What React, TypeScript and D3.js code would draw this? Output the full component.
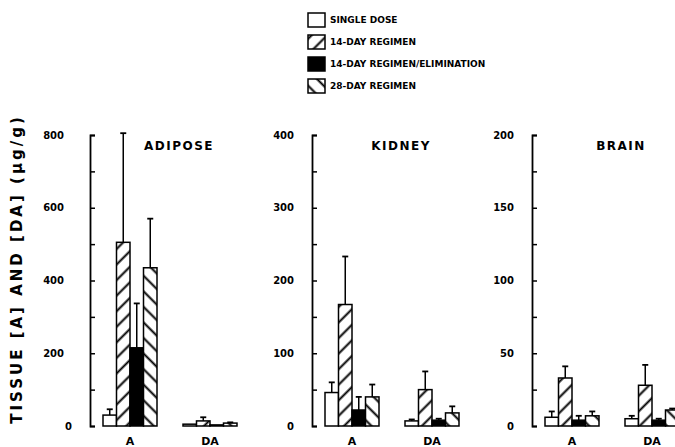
import React, { useEffect, useRef } from 'react';
import * as d3 from 'd3';

// panels
const organs = ['ADIPOSE', 'KIDNEY', 'BRAIN'];
const organMax = [800, 400, 200];
const organStep = [200, 100, 50];
const groups = ['A', 'DA'];
const regimens = ['SINGLE DOSE', '14-DAY REGIMEN', '14-DAY REGIMEN/ELIMINATION', '28-DAY REGIMEN'];

// means (ug/g), one value per regimen
const adiposeA = [30, 505, 215, 435];
const adiposeDA = [5, 14, 3, 8];
const kidneyA = [46, 167, 22, 40];
const kidneyDA = [7, 50, 8, 18];
const brainA = [6, 33, 4, 7];
const brainDA = [5, 28, 4, 11];

// upper error bars
const adiposeAErr = [16, 300, 122, 135];
const adiposeDAErr = [0, 10, 0, 2];
const kidneyAErr = [14, 66, 18, 17];
const kidneyDAErr = [2, 25, 2, 9];
const brainAErr = [4, 8, 3, 3];
const brainDAErr = [2, 14, 1, 1];

const values = [[adiposeA, adiposeDA], [kidneyA, kidneyDA], [brainA, brainDA]];
const errors = [[adiposeAErr, adiposeDAErr], [kidneyAErr, kidneyDAErr], [brainAErr, brainDAErr]];

const W = 675;
const H = 447;
const FONT = '"DejaVu Sans", sans-serif';
const fills = ['#fff', 'url(#hatchFwd)', '#000', 'url(#hatchBack)'];

const App = () => {
  const svgRef = useRef<SVGSVGElement>(null);

  useEffect(() => {
    const svg = d3.select(svgRef.current);
    svg.selectAll('*').remove();

    // hatch patterns
    const defs = svg.append('defs');
    [['hatchFwd', 45], ['hatchBack', -45]].forEach(([id, angle]) => {
      const p = defs.append('pattern')
        .attr('id', id)
        .attr('patternUnits', 'userSpaceOnUse')
        .attr('width', 11)
        .attr('height', 11)
        .attr('patternTransform', `rotate(${angle})`);
      p.append('rect').attr('width', 11).attr('height', 11).attr('fill', '#fff');
      p.append('line')
        .attr('x1', 5.5).attr('x2', 5.5)
        .attr('y1', 0).attr('y2', 11)
        .attr('stroke', '#000')
        .attr('stroke-width', 2);
    });

    const axisX = [90, 312, 532];
    const yBottom = 426;
    const yTop = 135;

    organs.forEach((organ, i) => {
      const ax = axisX[i];
      const y = d3.scaleLinear().domain([0, organMax[i]]).range([yBottom, yTop]);
      const x = d3.scalePoint().domain(groups).range([ax + 40, ax + 120]);
      const xs = d3.scaleBand().domain(regimens).range([-27, 27]);

      const step = organStep[i];
      const axis = svg.append('g')
        .attr('transform', `translate(${ax},0)`)
        .call(d3.axisLeft(y)
          .tickValues(d3.range(0, organMax[i] + 1, step / 2))
          .tickSize(-5)
          .tickPadding(18)
          .tickFormat(d => (+d % step === 0 ? String(d) : '')));

      axis.select('.domain').attr('stroke', '#000').attr('stroke-width', 1.8);
      axis.selectAll('.tick line').attr('stroke', '#000').attr('stroke-width', 1.5);
      axis.selectAll('.tick text')
        .attr('x', (d: any) => (i === 0 && d !== 0 ? -26 : -18))
        .style('font-family', FONT)
        .style('font-weight', 'bold')
        .style('font-size', '10px')
        .attr('fill', '#000');

      // panel title
      svg.append('text')
        .attr('x', ax + 89)
        .attr('y', 150)
        .attr('text-anchor', 'middle')
        .style('font-family', FONT)
        .style('font-weight', 'bold')
        .style('font-size', '12px')
        .style('letter-spacing', '1.5px')
        .text(organ);

      groups.forEach((grp, gi) => {
        const gx = x(grp)!;
        const vals = values[i][gi];
        const errs = errors[i][gi];

        regimens.forEach((r, ri) => {
          const v = vals[ri];
          const bx = gx + xs(r)!;
          const bw = xs.bandwidth();
          const cx = bx + bw / 2;

          if (errs[ri] > 0) {
            svg.append('line')
              .attr('x1', cx).attr('x2', cx)
              .attr('y1', y(v)).attr('y2', y(v + errs[ri]))
              .attr('stroke', '#000').attr('stroke-width', 1.5);
            svg.append('line')
              .attr('x1', cx - 3).attr('x2', cx + 3)
              .attr('y1', y(v + errs[ri])).attr('y2', y(v + errs[ri]))
              .attr('stroke', '#000').attr('stroke-width', 1.8);
          }

          svg.append('rect')
            .attr('x', bx)
            .attr('y', y(v))
            .attr('width', bw)
            .attr('height', y(0) - y(v))
            .attr('fill', fills[ri])
            .attr('stroke', '#000')
            .attr('stroke-width', 1.5);
        });

        svg.append('text')
          .attr('x', gx)
          .attr('y', 445)
          .attr('text-anchor', 'middle')
          .style('font-family', FONT)
          .style('font-weight', 'bold')
          .style('font-size', '11px')
          .text(grp);
      });
    });

    // y axis title
    svg.append('text')
      .attr('transform', 'translate(17,269) rotate(-90)')
      .attr('text-anchor', 'middle')
      .attr('dy', '0.35em')
      .style('font-family', FONT)
      .style('font-weight', 'bold')
      .style('font-size', '15px')
      .style('letter-spacing', '3px')
      .text('TISSUE [A] AND [DA] (\u00b5g/g)');

    // legend
    const legend = svg.append('g').attr('transform', 'translate(308,0)');
    regimens.forEach((r, ri) => {
      const cy = 20 + ri * 22;
      legend.append('rect')
        .attr('x', 0)
        .attr('y', cy - 7)
        .attr('width', 17)
        .attr('height', 14)
        .attr('fill', fills[ri])
        .attr('stroke', '#000')
        .attr('stroke-width', 1.5);
      legend.append('text')
        .attr('x', 22)
        .attr('y', cy)
        .attr('dy', '0.35em')
        .style('font-family', FONT)
        .style('font-weight', 'bold')
        .style('font-size', '9px')
        .text(r);
    });
  }, []);

  return (
    <svg
      ref={svgRef}
      width={W}
      height={H}
      style={{ position: 'absolute', left: 0, top: 0, background: '#fff' }}
    />
  );
};

export default App;
